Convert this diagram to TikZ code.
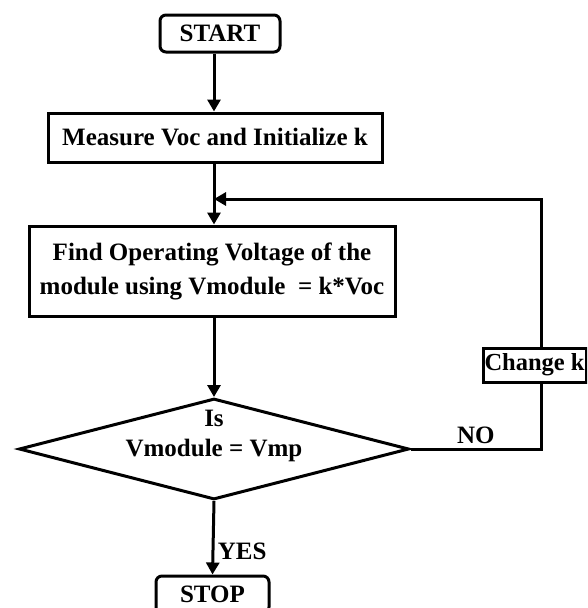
\documentclass[tikz,border=0pt]{standalone}
\usepackage{fontspec}
\setmainfont{Liberation Serif}
\usetikzlibrary{shapes.geometric,arrows.meta}

\begin{document}
\begin{tikzpicture}[x=1pt,y=-1pt,
		every node/.style={font=\bfseries\fontsize{25}{34}\selectfont},
		block/.style={draw,line width=3pt,inner sep=2pt},
		terminal/.style={block,rounded corners=6pt},
		decision/.style={draw,diamond,line width=3pt,inner sep=0pt},
		flow/.style={line width=3pt,-{Triangle[width=13pt,length=12pt]}},
		joint/.style={line width=3pt}]
			%%%%% START %%%%%
			
			\useasboundingbox (0,0) rectangle (587,608);
			\clip (0,0) rectangle (587,608);
			
			\node[terminal,minimum width=120pt,minimum height=37pt] (start) at (220,33.5) {START};
			\node[block,minimum width=334pt,minimum height=49pt] (measure) at (215,137.5) {Measure Voc and Initialize k};
			\node[block,minimum width=366pt,minimum height=90pt,align=center] (find) at (212,271) {Find Operating Voltage of the\\module using Vmodule~ = k*Voc};
			
			\node[decision,minimum width=390pt,minimum height=101pt] (check) at (214,449) {};
			\node[align=center,font=\bfseries\fontsize{25}{30}\selectfont] (checktext) at (214,436) {Is\\Vmodule = Vmp};
			
			\node[block,anchor=west,inner xsep=1.5pt,minimum height=34pt,font=\bfseries\fontsize{24.5}{30}\selectfont] (changek) at (481.5,365) {Change k};
			\node[terminal,minimum width=113pt,minimum height=37pt] (stop) at (212.5,594.5) {STOP};
			
			\coordinate (join) at (214,199);
			\coordinate (back) at (541,199);
			
			\draw[flow] (start.south -| join) -- (measure.north -| join);
			\draw[flow] (measure.south -| join) -- (find.north -| join);
			\draw[flow] (find.south -| check) -- (check.north);
			\draw[flow] (check.south) -- node[right,pos=0.69] (yes) {YES} (stop.north);
			
			\draw[joint] (check.east) -- node[above] (no) {NO} (check.east -| back) -- (changek.south -| back);
			\draw[flow] (changek.north -| back) -- (back) -- (join);
			
			%%%%% END %%%%%
		\end{tikzpicture}
\end{document}
